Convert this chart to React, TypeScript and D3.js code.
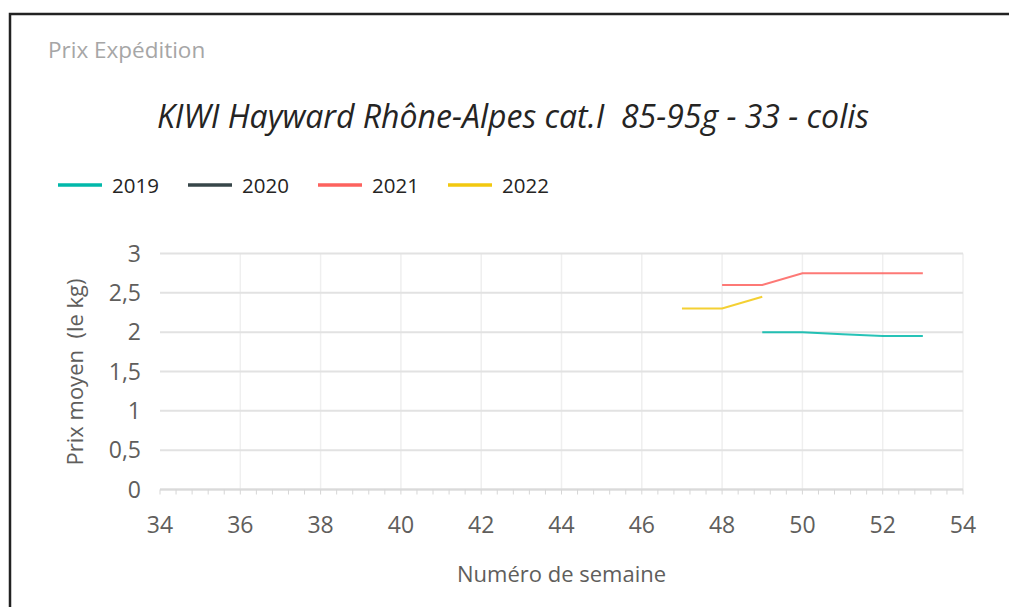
import React, { useRef, useEffect } from "react";
import * as d3 from "d3";

const years = ["2019", "2020", "2021", "2022"];
const colors = ["#01B8AA", "#374649", "#FD625E", "#F2C80F"];

const weeks2019 = [49, 50, 51, 52, 53];
const prices2019 = [2.0, 2.0, 1.975, 1.95, 1.95];
const weeks2020: number[] = [];
const prices2020: number[] = [];
const weeks2021 = [48, 49, 50, 51, 52, 53];
const prices2021 = [2.6, 2.6, 2.75, 2.75, 2.75, 2.75];
const weeks2022 = [47, 48, 49];
const prices2022 = [2.3, 2.3, 2.45];

const xTicks = [34, 36, 38, 40, 42, 44, 46, 48, 50, 52, 54];
const yTicks = [0, 0.5, 1, 1.5, 2, 2.5, 3];

const FONT = "'Segoe UI', 'Open Sans', sans-serif";

const App = () => {
  const svgRef = useRef<SVGSVGElement>(null);

  useEffect(() => {
    document.body.style.margin = "0";
    const width = 1009;
    const height = 607;
    const svg = d3.select(svgRef.current)
      .attr("width", width)
      .attr("height", height)
      .style("display", "block");
    svg.selectAll("*").remove();

    // card border (only top and left show)
    svg.append("rect").attr("width", width).attr("height", height).attr("fill", "#fff");
    svg.append("path")
      .attr("d", `M10,${height} V14 H${width}`)
      .attr("fill", "none")
      .attr("stroke", "#222")
      .attr("stroke-width", 2.5);

    svg.append("text")
      .attr("x", 48).attr("y", 58)
      .attr("font-family", FONT).attr("font-size", 22.5)
      .attr("fill", "#a6a6a6")
      .text("Prix Expédition");

    svg.append("text")
      .attr("x", 513).attr("y", 128)
      .attr("text-anchor", "middle")
      .attr("font-family", FONT).attr("font-size", 32)
      .attr("font-style", "italic")
      .attr("fill", "#252423")
      .style("white-space", "pre")
      .text("KIWI Hayward Rhône-Alpes cat.I  85-95g - 33 - colis");

    // legend
    const legend = svg.append("g").attr("transform", "translate(58,185)");
    years.forEach((y, i) => {
      const g = legend.append("g").attr("transform", `translate(${i * 130},0)`);
      g.append("line").attr("x1", 0).attr("x2", 44).attr("y1", 0).attr("y2", 0)
        .attr("stroke", colors[i]).attr("stroke-width", 3.5);
      g.append("text").attr("x", 54).attr("y", 8)
        .attr("font-family", FONT).attr("font-size", 20.5)
        .attr("fill", "#252423").text(y);
    });

    const x = d3.scaleLinear().domain([34, 54]).range([160, 963]);
    const yScale = d3.scaleLinear().domain([0, 3]).range([489.5, 253.5]);

    // grid
    svg.append("g").selectAll("line").data(xTicks.slice(1)).join("line")
      .attr("x1", (d) => x(d)).attr("x2", (d) => x(d))
      .attr("y1", yScale(3)).attr("y2", yScale(0))
      .attr("stroke", "#efefef").attr("stroke-width", 1.5);
    svg.append("g").selectAll("line").data(yTicks).join("line")
      .attr("x1", x(34)).attr("x2", x(54))
      .attr("y1", (d) => yScale(d)).attr("y2", (d) => yScale(d))
      .attr("stroke", "#e2e2e2").attr("stroke-width", 2);

    // x axis line with minor ticks
    svg.append("line").attr("x1", x(34)).attr("x2", x(54))
      .attr("y1", yScale(0)).attr("y2", yScale(0))
      .attr("stroke", "#dadada").attr("stroke-width", 2);
    const minor = d3.range(0, 51).map((i) => 34 + i * 0.4);
    svg.append("g").selectAll("line").data(minor).join("line")
      .attr("x1", (d) => x(d)).attr("x2", (d) => x(d))
      .attr("y1", yScale(0)).attr("y2", yScale(0) + 5)
      .attr("stroke", "#d6d6d6").attr("stroke-width", 1);

    // tick labels
    svg.append("g").selectAll("text").data(xTicks).join("text")
      .attr("x", (d) => x(d)).attr("y", 533)
      .attr("text-anchor", "middle")
      .attr("font-family", FONT).attr("font-size", 23)
      .attr("fill", "#605e5c").text((d) => d);
    svg.append("g").selectAll("text").data(yTicks).join("text")
      .attr("x", 141).attr("y", (d) => yScale(d) + 8)
      .attr("text-anchor", "end")
      .attr("font-family", FONT).attr("font-size", 23)
      .attr("fill", "#605e5c").text((d) => String(d).replace(".", ","));

    svg.append("text")
      .attr("transform", "translate(83,372) rotate(-90)")
      .attr("text-anchor", "middle")
      .attr("font-family", FONT).attr("font-size", 22)
      .attr("fill", "#605e5c")
      .style("white-space", "pre")
      .text("Prix moyen  (le kg)");

    svg.append("text")
      .attr("x", (x(34) + x(54)) / 2).attr("y", 582)
      .attr("text-anchor", "middle")
      .attr("font-family", FONT).attr("font-size", 22)
      .attr("fill", "#605e5c").text("Numéro de semaine");

    // series
    const series = [
      [weeks2019, prices2019],
      [weeks2020, prices2020],
      [weeks2021, prices2021],
      [weeks2022, prices2022],
    ];
    const line = d3.line<[number, number]>().x((d) => x(d[0])).y((d) => yScale(d[1]));
    series.forEach(([w, p], i) => {
      if (!w.length) return;
      const pts = w.map((wk, j) => [wk, p[j]] as [number, number]);
      svg.append("path").datum(pts)
        .attr("d", line)
        .attr("fill", "none")
        .attr("stroke", colors[i])
        .attr("stroke-width", 2)
        .attr("stroke-opacity", 0.85);
    });
  }, []);

  return <svg ref={svgRef}></svg>;
};

export default App;
